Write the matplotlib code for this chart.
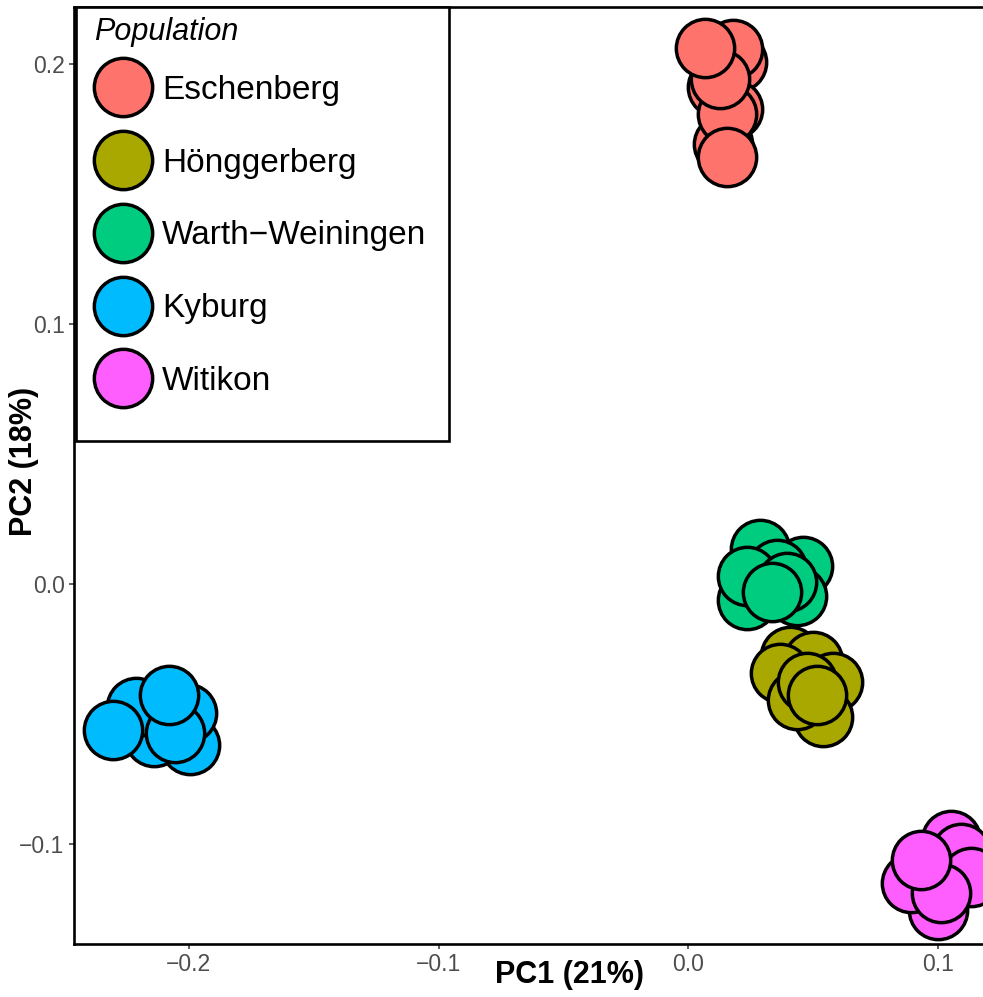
import matplotlib.pyplot as plt
from matplotlib.lines import Line2D
from matplotlib.patches import Rectangle

# --- data (PC scores) ---
populations = ['Eschenberg', 'Hönggerberg', 'Warth\u2212Weiningen', 'Kyburg', 'Witikon']
colors = ['#FF736D', '#A8A800', '#00CC7F', '#00BCFF', '#FF5EFF']

esch_pc1 = [0.0195, 0.0178, 0.0114, 0.0178, 0.0138, 0.0154, 0.0126, 0.0066, 0.0154]
esch_pc2 = [0.2010, 0.2060, 0.1914, 0.1829, 0.1694, 0.1810, 0.1945, 0.2064, 0.1644]

hong_pc1 = [0.0408, 0.0501, 0.0581, 0.0367, 0.0541, 0.0436, 0.0476, 0.0517]
hong_pc2 = [-0.0277, -0.0296, -0.0377, -0.0339, -0.0508, -0.0443, -0.0377, -0.0424]

warth_pc1 = [0.0287, 0.0460, 0.0356, 0.0436, 0.0235, 0.0235, 0.0396, 0.0335]
warth_pc2 = [0.0135, 0.0069, 0.0058, -0.0046, -0.0058, 0.0031, 0.0008, -0.0031]

kyb_pc1 = [-0.1996, -0.2008, -0.2141, -0.2210, -0.2056, -0.2302, -0.2080]
kyb_pc2 = [-0.0616, -0.0493, -0.0585, -0.0470, -0.0570, -0.0558, -0.0424]

wit_pc1 = [0.1053, 0.1093, 0.1133, 0.1000, 0.0891, 0.1012, 0.0931]
wit_pc2 = [-0.0982, -0.1032, -0.1124, -0.1251, -0.1147, -0.1186, -0.1059]

xticks = [-0.2, -0.1, 0.0, 0.1]
yticks = [-0.1, 0.0, 0.1, 0.2]

plt.rcParams['font.family'] = ['Liberation Sans', 'DejaVu Sans']

W, H = 983, 997
fig = plt.figure(figsize=(W / 100, H / 100), dpi=100)
# panel runs past the right edge of the picture (the original is cropped)
ax = fig.add_axes([74 / W, (H - 944) / H, 992 / W, 937 / H])

MS = 42
EW = 2.5
series = [(esch_pc1, esch_pc2), (hong_pc1, hong_pc2), (warth_pc1, warth_pc2),
          (kyb_pc1, kyb_pc2), (wit_pc1, wit_pc2)]
for (xs, ys), col in zip(series, colors):
    for x, y in zip(xs, ys):
        ax.plot(x, y, 'o', ms=MS, mfc=col, mec='black', mew=EW)

ax.set_xlim(-0.2460, 0.1513)
ax.set_ylim(-0.1383, 0.2221)

ax.set_xticks(xticks)
ax.set_xticklabels([f'{t:.1f}'.replace('-', '\u2212') for t in xticks])
ax.set_yticks(yticks)
ax.set_yticklabels([f'{t:.1f}'.replace('-', '\u2212') for t in yticks])
ax.tick_params(labelsize=16.5, labelcolor='#4D4D4D', length=3.8, width=1.1, color='#333333')
ax.tick_params(axis='x', pad=3)
ax.tick_params(axis='y', pad=3)

for s in ['left', 'bottom', 'top']:
    ax.spines[s].set_linewidth(1.9)
ax.spines['right'].set_visible(False)

ax.set_xlabel('PC1 (21%)', fontsize=22, fontweight='bold', va='center')
ax.xaxis.set_label_coords(0.5, -31 / 937)
ax.set_ylabel('PC2 (18%)', fontsize=22, fontweight='bold', va='center')
ax.yaxis.set_label_coords(-50 / 992, (944 - 461) / 937)

# legend box, title and entries
fig.add_artist(Rectangle((76 / W, 1 - 441 / H), (449 - 76) / W, (441 - 7) / H,
                         transform=fig.transFigure, facecolor='white',
                         edgecolor='black', lw=1.9, zorder=2))
fig.text(94 / W, 1 - 40 / H, 'Population', fontsize=22, style='italic',
         va='baseline', ha='left', zorder=3)

handles = [Line2D([], [], marker='o', ls='', ms=MS, mfc=c, mec='black', mew=EW)
           for c in colors]
fig.legend(handles, populations, loc='upper left',
           bbox_to_anchor=(93 / W, 1 - 74.7 / H), borderaxespad=0,
           fontsize=24, frameon=False, borderpad=0,
           handlelength=1.8, handletextpad=0.28, labelspacing=1.255)

fig.savefig('out.png', dpi=100)
